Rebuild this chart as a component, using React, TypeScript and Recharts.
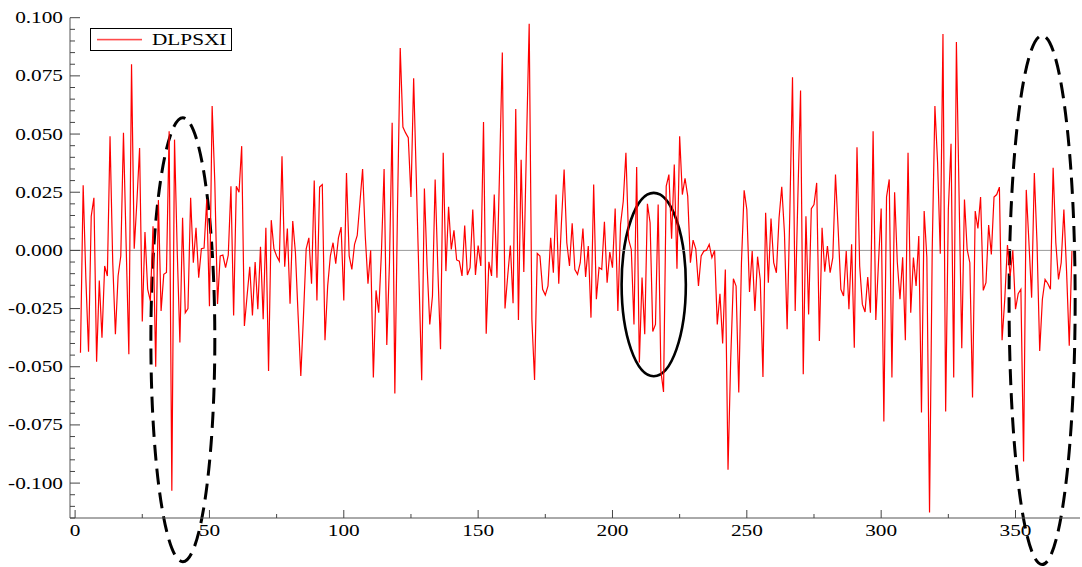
import React from 'react';
import { LineChart, Line, XAxis, YAxis, ReferenceLine, ReferenceArea, Legend } from 'recharts';

const seriesName = 'DLPSXI';
const seriesColor = '#ff0000';
const startPeriod = 2;

const dlpsxi = [
  -0.044, 0.028, -0.012, -0.0435, 0.0147, 0.0226, -0.0478, -0.0129, -0.0375, -0.0067,
  -0.011, 0.049, -0.005, -0.036, -0.011, -0.0024, 0.0505, 0.002, -0.0446, 0.08,
  0.0007, 0.021, 0.044, -0.0306, 0.0079, -0.0167, -0.0217, 0.0104, -0.05, 0.0216,
  -0.026, -0.0103, -0.0095, 0.0512, -0.1033, 0.0476, 0.0, -0.0396, 0.014, -0.0268,
  -0.025, 0.0226, -0.0053, 0.0097, -0.0117, 0.0007, 0.001, 0.022, -0.024, 0.062,
  0.029, -0.023, -0.0024, -0.002, -0.0074, -0.002, 0.0276, -0.028, 0.0276, 0.025,
  0.0448, -0.0325, -0.0196, -0.007, -0.028, -0.005, -0.0253, 0.0016, -0.0296, 0.0097,
  -0.0518, 0.013, 0.0007, -0.0024, -0.0046, 0.0405, -0.007, 0.0094, -0.0229, 0.0126,
  -0.001, -0.028, -0.054, -0.028, 0.0007, 0.0054, -0.0143, 0.03, -0.0215, 0.0272,
  0.0283, -0.0386, -0.0153, -0.0024, 0.0033, -0.0057, 0.0054, 0.01, -0.0215, 0.0333,
  -0.0024, -0.0082, 0.0026, 0.0064, 0.0205, 0.035, 0.006, -0.0143, 0.0, -0.0546,
  -0.0172, -0.0268, -0.001, 0.035, -0.0406, -0.0053, 0.0548, -0.0615, 0.019, 0.087,
  0.053, 0.0505, 0.0484, 0.023, 0.074, 0.03, -0.013, -0.0558, 0.0266, -0.0067,
  -0.0318, -0.0196, 0.0305, -0.008, -0.0425, 0.042, -0.0089, 0.0187, 0.0004, 0.0086,
  -0.0041, -0.0046, -0.011, 0.0107, -0.0106, -0.0074, 0.0176, -0.0106, 0.0021, -0.0067,
  0.0552, -0.0358, -0.0049, -0.011, 0.024, -0.0117, 0.0355, 0.085, -0.025, -0.011,
  0.0021, -0.0227, 0.0608, -0.0299, 0.039, -0.0093, 0.046, 0.0974, -0.0296, -0.0557,
  -0.0013, -0.0024, -0.0167, -0.0192, -0.0153, 0.0054, -0.0096, 0.024, -0.0143, 0.0119,
  0.0348, 0.0033, -0.0067, 0.0116, -0.0082, -0.0103, -0.0053, 0.0094, -0.0114, 0.0019,
  -0.0289, 0.0283, -0.021, -0.0074, -0.0082, 0.0123, -0.0139, -0.0007, -0.0074, 0.018,
  -0.026, 0.0112, 0.021, 0.042, 0.0047, 0.0004, -0.0318, 0.0358, -0.0482, -0.0117,
  -0.036, 0.02, 0.0119, -0.0349, -0.0318, 0.0197, -0.0518, -0.0608, 0.0276, 0.0326,
  0.005, 0.0369, -0.0079, 0.049, 0.024, 0.031, 0.0233, -0.0053, 0.0044, 0.0007,
  -0.0153, -0.0024, -0.0003, 0.0001, 0.0026, -0.0031, 0.0, -0.0318, -0.0186, -0.04,
  -0.0082, -0.0943, -0.0468, -0.0122, -0.0153, -0.0611, -0.0053, 0.0258, 0.0176, -0.0179,
  -0.0003, -0.026, -0.0027, -0.0127, -0.0544, 0.0162, -0.0139, 0.0137, -0.0053, -0.0096,
  0.014, 0.0273, 0.0076, -0.0339, 0.0162, 0.0744, -0.026, 0.0233, 0.0687, -0.0532,
  0.0147, -0.0275, 0.0179, 0.0197, 0.029, -0.0389, 0.0097, -0.0092, 0.0019, -0.0096,
  -0.0031, 0.0326, 0.009, -0.0167, -0.0196, -0.0003, -0.0253, 0.0026, -0.0418, 0.0443,
  -0.0067, -0.0232, -0.0265, -0.0114, -0.0268, 0.0512, -0.0299, -0.0053, 0.018, -0.0735,
  0.023, 0.0305, -0.0546, 0.025, -0.005, -0.021, -0.003, -0.0386, 0.042, -0.0268,
  -0.0031, -0.0153, 0.0062, -0.0697, 0.0169, -0.003, -0.1126, 0.0004, 0.062, 0.0376,
  -0.0014, 0.093, -0.0692, 0.0176, 0.0458, -0.0546, 0.0896, 0.0233, -0.042, 0.0219,
  0.0004, -0.0053, -0.0632, 0.0169, 0.0094, 0.0229, -0.0172, -0.0139, 0.0109, -0.0017,
  0.0229, 0.024, 0.0272, -0.0386, -0.021, 0.0023, -0.011, 0.0, -0.0253, -0.0186,
  -0.0167, -0.0907, 0.026, 0.0033, -0.0203, 0.0333, 0.0033, -0.0432, -0.021, -0.0125,
  -0.0142, -0.0167, 0.0355, 0.0033, -0.0125, -0.0053, 0.0176, -0.0089, -0.041, -0.0003,
];

const xDomain = [-1.9, 374];
const yDomain = [-0.115, 0.1];
const xTicks = [0, 25, 50, 75, 100, 125, 150, 175, 200, 225, 250, 275, 300, 325, 350];
const xLabelTicks = [0, 50, 100, 150, 200, 250, 300, 350];
const yLabelTicks = [-0.1, -0.075, -0.05, -0.025, 0, 0.025, 0.05, 0.075, 0.1];
const yMinorStep = 0.005;

// annotation ellipses, given as data-space bounding boxes
const ellipseX1 = [28.2, 203.4, 347.6];
const ellipseX2 = [52.0, 227.3, 372.2];
const ellipseYTop = [0.057, 0.0247, 0.0923];
const ellipseYBottom = [-0.1338, -0.0541, -0.135];
const ellipseDashed = [true, false, true];

const data = dlpsxi.map((v, i) => ({ t: startPeriod + i, value: v }));

const yTicks: number[] = [];
for (let k = Math.round(yDomain[0] / yMinorStep); k <= Math.round(yDomain[1] / yMinorStep); k++) {
  yTicks.push(Number((k * yMinorStep).toFixed(3)));
}

const FONT = '"Liberation Serif", "Times New Roman", serif';
const STRETCH = 1.33;

const YTick = (props: any) => {
  const { x, y, payload } = props;
  const v = payload.value;
  const major = yLabelTicks.some((t) => Math.abs(t - v) < 1e-9);
  return (
    <g>
      <line x1={x} x2={x + (major ? 10 : 5)} y1={y} y2={y} stroke="#444" strokeWidth={1} />
      {major && (
        <text
          transform={`translate(${x - 7},${y}) scale(${STRETCH},1)`}
          textAnchor="end"
          dominantBaseline="central"
          fontFamily={FONT}
          fontSize={16}
          fill="#000"
        >
          {v.toFixed(3)}
        </text>
      )}
    </g>
  );
};

const XTick = (props: any) => {
  const { x, y, payload } = props;
  const v = payload.value;
  const major = xLabelTicks.includes(v);
  return (
    <g>
      <line x1={x} x2={x} y1={y} y2={y - (major ? 8 : 4)} stroke="#444" strokeWidth={1} />
      {major && (
        <text
          transform={`translate(${x},${y + 18}) scale(${STRETCH},1)`}
          textAnchor="middle"
          fontFamily={FONT}
          fontSize={16}
          fill="#000"
        >
          {String(v)}
        </text>
      )}
    </g>
  );
};

const renderLegend = (props: any) => {
  const item = props.payload && props.payload[0];
  const label = (item && item.value) || seriesName;
  return (
    <svg width={143} height={23} style={{ display: 'block' }}>
      <rect x={0.5} y={0.5} width={141} height={22} fill="#fff" stroke="#000" strokeWidth={1} />
      <rect x={7} y={10.8} width={45} height={1.6} fill="#ff4a4a" />
      <text
        transform={`translate(62,11.5) scale(${STRETCH},1)`}
        dominantBaseline="central"
        fontFamily={FONT}
        fontSize={16}
        fill="#000"
      >
        {label}
      </text>
    </svg>
  );
};

const makeEllipse = (dashed: boolean) => (p: any) => {
  const { x, y, width, height } = p;
  return (
    <ellipse
      cx={x + width / 2}
      cy={y + height / 2}
      rx={Math.abs(width) / 2}
      ry={Math.abs(height) / 2}
      fill="none"
      stroke="#000"
      strokeWidth={dashed ? 3 : 2.6}
      strokeDasharray={dashed ? '16 8' : undefined}
    />
  );
};

export default function App() {
  return (
    <div style={{ position: 'absolute', left: 0, top: 0, width: 1082, height: 567, background: '#fff' }}>
      <LineChart
        width={1082}
        height={567}
        data={data}
        margin={{ top: 17.7, right: 2, bottom: 0, left: 0 }}
      >
        <XAxis
          type="number"
          dataKey="t"
          domain={xDomain}
          ticks={xTicks}
          interval={0}
          height={49}
          tickSize={0}
          tickMargin={0}
          tickLine={false}
          axisLine={{ stroke: '#555', strokeWidth: 1 }}
          tick={<XTick />}
          allowDataOverflow
        />
        <YAxis
          type="number"
          domain={yDomain}
          ticks={yTicks}
          interval={0}
          width={70}
          tickSize={0}
          tickMargin={0}
          tickLine={false}
          axisLine={{ stroke: '#555', strokeWidth: 1 }}
          tick={<YTick />}
          allowDataOverflow
        />
        <ReferenceLine y={0} stroke="#9a9a9a" strokeWidth={1} />
        <Line
          type="linear"
          dataKey="value"
          name={seriesName}
          stroke={seriesColor}
          strokeWidth={1.2}
          dot={false}
          activeDot={false}
          isAnimationActive={false}
        />
        {ellipseX1.map((x1, i) => (
          <ReferenceArea
            key={i}
            x1={x1}
            x2={ellipseX2[i]}
            y1={ellipseYBottom[i]}
            y2={ellipseYTop[i]}
            ifOverflow="visible"
            shape={makeEllipse(ellipseDashed[i])}
          />
        ))}
        <Legend
          layout="horizontal"
          verticalAlign="middle"
          align="center"
          wrapperStyle={{ left: 90, top: 28, width: 143, height: 23 }}
          content={renderLegend}
        />
      </LineChart>
    </div>
  );
}
